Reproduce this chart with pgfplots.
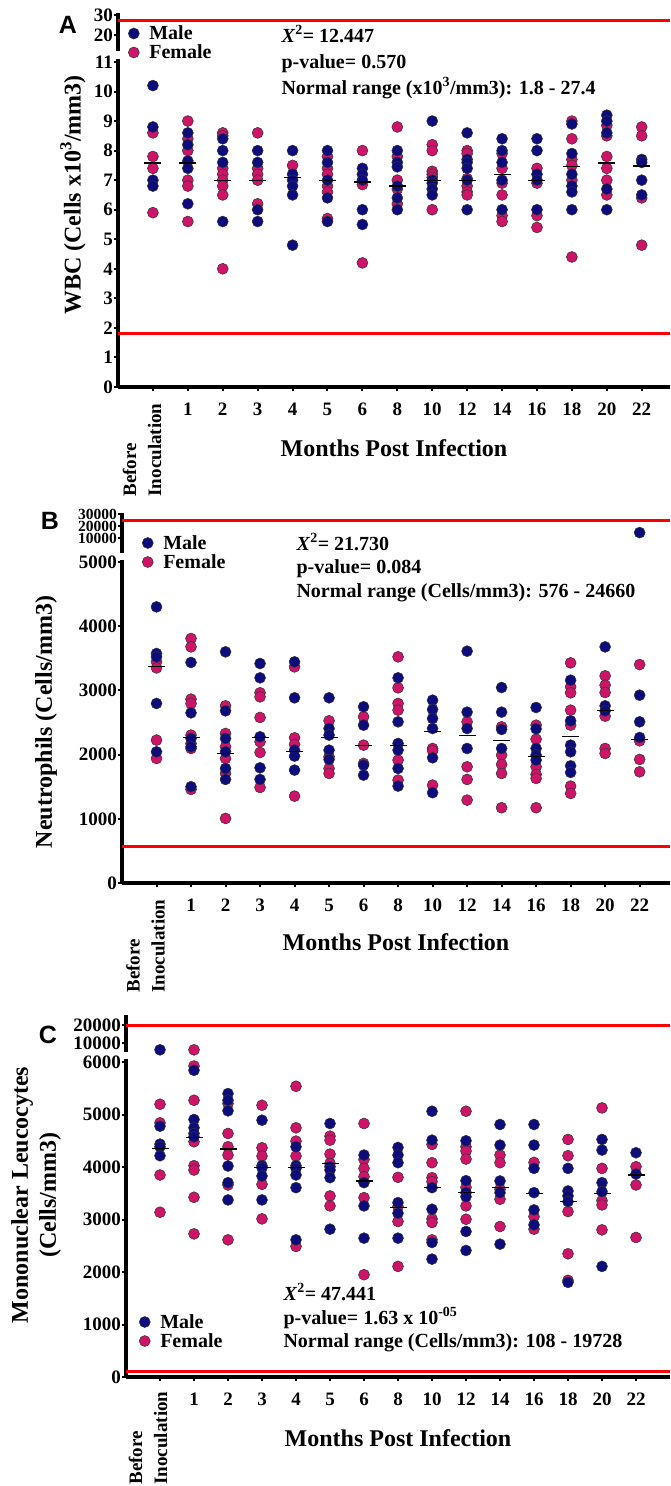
\documentclass[border=0pt]{standalone}
\usepackage{fontspec}
\setmainfont{Liberation Serif}
\newfontfamily\panelfont{Liberation Sans}
\usepackage{pgfplots}
\pgfplotsset{compat=1.18}

\definecolor{male}{RGB}{12,12,125}
\definecolor{female}{RGB}{205,20,105}
\definecolor{normline}{RGB}{255,0,0}

\newcommand\tfont{\fontsize{19}{19}\selectfont\bfseries}
\newcommand\ufont{\fontsize{15.5}{15.5}\selectfont\bfseries}
\newcommand\afont{\fontsize{20}{20}\selectfont\bfseries}
\newcommand\bifont{\fontsize{19}{25}\selectfont\bfseries}
\newcommand\lfont{\fontsize{24}{28}\selectfont\bfseries}
\newcommand\pfont{\fontsize{25}{25}\selectfont\panelfont\bfseries}
\newcommand\chisq{\textit{X}\textsuperscript{2}}

\pgfplotsset{
  panel/.style={scale only axis, clip=false,
    scaled y ticks=false,
    axis line style={line width=3.2pt,-,black},
    tick align=outside, major tick length=4pt,
    tick style={line width=2pt,black},
    ticklabel style={font=\tfont},
    yticklabel style={inner sep=1pt},
    xmin=-1},
  lower/.style={panel, axis x line*=bottom, axis y line*=left,
    xtick={0,...,14},
    xticklabels={,1,2,3,4,5,6,8,10,12,14,16,18,20,22},
    xticklabel style={inner sep=0pt, yshift=-12pt},
    legend cell align=left,
    legend image code/.code={\draw[##1] plot coordinates {(0pt,0pt)};},
    legend style={draw=none, fill=none, inner sep=0pt, outer sep=0pt,
      anchor=north west, font=\afont, row sep=6pt,
      nodes={text height=13pt, text depth=0pt, inner sep=0pt},
      /tikz/every odd column/.style={column sep=10pt}}},
  upper/.style={panel, axis x line=none, axis y line*=left, xtick=\empty},
  maleplot/.style={only marks, mark=*, mark size=5.5pt,
    mark options={fill=male, draw=black!80, line width=0.5pt}},
  femaleplot/.style={only marks, mark=*, mark size=5.5pt,
    mark options={fill=female, draw=black!80, line width=0.5pt}},
  medplot/.style={only marks, mark=-, mark size=8.5pt,
    mark options={draw=black, line width=1.2pt}},
  redline/.style={normline, line width=3pt, no marks},
}

\begin{document}
\begin{tikzpicture}
\fill[white, use as bounding box] (0pt,0pt) rectangle (670pt,-1486pt);

% ---------------- Panel A: WBC ----------------
\begin{axis}[upper, at={(118pt,-51pt)}, anchor=south west,
  width=552pt, height=38pt, xmax=14.81, ymin=12, ymax=31,
  ytick={20,30}, yticklabels={20,30}]
\addplot[redline] coordinates {(-1,27.4) (14.81,27.4)};
\end{axis}

\begin{axis}[lower, at={(118pt,-387pt)}, anchor=south west,
  width=552pt, height=328pt, xmax=14.81, ymin=0, ymax=11.1,
  ytick={0,...,11}, yticklabels={0,1,2,3,4,5,6,7,8,9,10,11},
  legend style={at={(0.0187,1.0976)}}]
\addlegendimage{maleplot}\addlegendentry{Male}
\addlegendimage{femaleplot}\addlegendentry{Female}
\addplot[redline, forget plot] coordinates {(-1,1.8) (14.81,1.8)};
\addplot[femaleplot, forget plot] coordinates {
(0,8.6)(0,7.8)(0,7.4)(0,5.9)
(1,9.0)(1,8.4)(1,8.0)(1,7.0)(1,6.8)(1,5.6)
(2,8.6)(2,8.5)(2,7.4)(2,7.2)(2,7.0)(2,6.8)(2,6.5)(2,4.0)
(3,8.6)(3,7.4)(3,7.2)(3,7.0)(3,6.2)
(4,7.5)
(5,7.8)(5,7.4)(5,7.2)(5,6.8)(5,6.6)(5,5.7)
(6,8.0)(6,6.85)(6,4.2)
(7,8.8)(7,7.8)(7,7.0)(7,6.7)(7,6.2)
(8,8.2)(8,8.0)(8,7.3)(8,7.2)(8,7.1)(8,6.0)
(9,8.0)(9,7.9)(9,7.05)(9,6.8)(9,6.6)(9,6.5)
(10,7.9)(10,7.4)(10,6.9)(10,6.5)(10,5.8)(10,5.6)
(11,7.4)(11,6.9)(11,5.8)(11,5.4)
(12,9.0)(12,8.4)(12,7.7)(12,7.5)(12,7.0)(12,4.4)
(13,8.85)(13,8.5)(13,7.8)(13,7.4)(13,7.0)(13,6.5)
(14,8.8)(14,8.5)(14,6.4)(14,4.8)};
\addplot[maleplot, forget plot] coordinates {
(0,10.2)(0,8.8)(0,7.0)(0,6.8)
(1,8.6)(1,8.2)(1,7.65)(1,7.4)(1,6.2)
(2,8.4)(2,8.0)(2,7.6)(2,5.6)
(3,8.0)(3,7.6)(3,6.0)(3,5.6)
(4,8.0)(4,7.2)(4,7.0)(4,6.8)(4,6.5)(4,4.8)
(5,8.0)(5,7.6)(5,7.0)(5,6.4)(5,5.6)
(6,7.4)(6,7.2)(6,7.0)(6,6.0)(6,5.5)
(7,8.0)(7,7.6)(7,7.45)(7,6.8)(7,6.4)(7,6.0)
(8,9.0)(8,7.0)(8,6.9)(8,6.7)(8,6.5)
(9,8.6)(9,7.7)(9,7.6)(9,7.4)(9,7.0)(9,6.0)
(10,8.4)(10,8.0)(10,7.6)(10,7.0)(10,6.0)
(11,8.4)(11,8.0)(11,7.2)(11,7.0)(11,6.0)
(12,8.9)(12,7.9)(12,7.2)(12,6.8)(12,6.6)(12,6.0)
(13,9.2)(13,9.0)(13,8.6)(13,6.7)(13,6.0)
(14,7.7)(14,7.6)(14,7.0)(14,6.5)};
\addplot[medplot, forget plot] coordinates {
(0,7.58)(1,7.58)(2,6.98)(3,7.0)(4,7.09)(5,6.98)(6,6.94)(7,6.8)
(8,7.0)(9,7.0)(10,7.19)(11,7.0)(12,7.45)(13,7.58)(14,7.48)};
\end{axis}

\node[font=\pfont] at (68pt,-25pt) {A};
\node[font=\lfont, rotate=90] at (73pt,-195pt) {WBC (Cells x10\textsuperscript{3}/mm3)};
\node[font=\lfont] at (394pt,-448pt) {Months Post Infection};
\node[font=\bifont, rotate=90, anchor=east, align=left] at (142pt,-400pt) {Before\\Inoculation};
\node[font=\afont, anchor=base west] at (278pt,-42pt) {\chisq= 12.447};
\node[font=\afont, anchor=base west] at (278pt,-68pt) {p-value= 0.570};
\node[font=\afont, anchor=base west] at (278pt,-94pt) {Normal range (x10\textsuperscript{3}/mm3): 1.8 - 27.4};

% ---------------- Panel B: Neutrophils ----------------
\begin{axis}[upper, at={(122pt,-553pt)}, anchor=south west,
  width=548pt, height=40.2pt, xmax=14.88, ymin=-2500, ymax=31000,
  yticklabel style={font=\ufont, inner ysep=0pt, inner xsep=1pt},
  ytick={10000,20000,30000}, yticklabels={10000,20000,30000}]
\addplot[redline] coordinates {(-1,24660) (14.88,24660)};
\addplot[maleplot] coordinates {(14,14500)};
\end{axis}

\begin{axis}[lower, at={(122pt,-883pt)}, anchor=south west,
  width=548pt, height=323pt, xmax=14.88, ymin=0, ymax=5030,
  ytick={0,1000,2000,3000,4000,5000}, yticklabels={0,1000,2000,3000,4000,5000},
  legend style={at={(0.037,1.0728)}}]
\addlegendimage{maleplot}\addlegendentry{Male}
\addlegendimage{femaleplot}\addlegendentry{Female}
\addplot[redline, forget plot] coordinates {(-1,576) (14.88,576)};
\addplot[femaleplot, forget plot] coordinates {
(0,3444)(0,3350)(0,2225)(0,1940)
(1,3807)(1,3677)(1,2863)(1,2796)(1,2303)(1,2173)(1,2095)(1,1457)
(2,2759)(2,2329)(2,2121)(2,1940)(2,1706)(2,1006)
(3,2962)(3,2899)(3,2578)(3,2199)(3,2033)(3,1488)
(4,3366)(4,2261)(4,2158)(4,1353)
(5,2526)(5,1966)(5,1784)(5,1706)
(6,2588)(6,2147)(6,1862)
(7,3522)(7,3039)(7,2796)(7,2692)(7,1914)(7,1603)
(8,2095)(8,2059)(8,1525)
(9,2510)(9,1810)(9,1613)(9,1291)
(10,2432)(10,1992)(10,1846)(10,1706)(10,1172)
(11,2458)(11,2240)(11,1810)(11,1691)(11,1629)(11,1172)
(12,3428)(12,3055)(12,2962)(12,2692)(12,2458)(12,1509)(12,1395)
(13,3226)(13,3081)(13,2967)(13,2598)(13,2095)(13,2017)
(14,3402)(14,2214)(14,1924)(14,1732)};
\addplot[maleplot, forget plot] coordinates {
(0,4300)(0,3574)(0,3522)(0,2796)(0,2043)
(1,3434)(1,2650)(1,2251)(1,2121)(1,1499)
(2,3600)(2,2681)(2,2251)(2,2043)(2,1784)(2,1613)
(3,3418)(3,3195)(3,2277)(3,1794)(3,1613)
(4,3444)(4,2884)(4,2069)(4,1976)(4,1758)
(5,2884)(5,2406)(5,2303)(5,2069)(5,1924)
(6,2744)(6,2458)(6,1836)(6,1680)
(7,3195)(7,2510)(7,2173)(7,2069)(7,1784)(7,1509)
(8,2847)(8,2702)(8,2562)(8,2406)(8,1950)(8,1406)
(9,3610)(9,2661)(9,2406)(9,2095)
(10,3044)(10,2661)(10,2391)(10,2095)
(11,2733)(11,2401)(11,2095)(11,1992)(11,1914)
(12,3158)(12,2526)(12,2147)(12,2043)(12,1825)(12,1722)
(13,3677)(13,2759)(13,2681)
(14,2925)(14,2510)(14,2266)};
\addplot[medplot, forget plot] coordinates {
(0,3376)(1,2266)(2,2017)(3,2266)(4,2054)(5,2266)(6,2147)(7,2147)
(8,2355)(9,2298)(10,2214)(11,1966)(12,2287)(13,2681)(14,2235)};
\end{axis}

\node[font=\pfont] at (50pt,-521pt) {B};
\node[font=\lfont, rotate=90] at (46pt,-722pt) {Neutrophils (Cells/mm3)};
\node[font=\lfont] at (396pt,-942pt) {Months Post Infection};
\node[font=\bifont, rotate=90, anchor=east, align=left] at (145.5pt,-896pt) {Before\\Inoculation};
\node[font=\afont, anchor=base west] at (293pt,-550pt) {\chisq= 21.730};
\node[font=\afont, anchor=base west] at (293pt,-573pt) {p-value= 0.084};
\node[font=\afont, anchor=base west] at (293pt,-597pt) {Normal range (Cells/mm3): 576 - 24660};

% ---------------- Panel C: Mononuclear leucocytes ----------------
\begin{axis}[upper, at={(126pt,-1052pt)}, anchor=south west,
  width=544pt, height=37pt, xmax=15, ymin=5000, ymax=25500,
  ytick={10000,20000}, yticklabels={10000,20000}]
\addplot[redline] coordinates {(-1,19728) (15,19728)};
\addplot[femaleplot] coordinates {(1,6200)};
\addplot[maleplot] coordinates {(0,6200)};
\end{axis}

\begin{axis}[lower, at={(126pt,-1377pt)}, anchor=south west,
  width=544pt, height=317.6pt, xmax=15, ymin=0, ymax=6050,
  ytick={0,1000,2000,3000,4000,5000,6000},
  yticklabels={0,1000,2000,3000,4000,5000,6000},
  legend style={at={(0.0244,0.1936)}}]
\addlegendimage{maleplot}\addlegendentry{Male}
\addlegendimage{femaleplot}\addlegendentry{Female}
\addplot[redline, forget plot] coordinates {(-1,108) (15,108)};
\addplot[femaleplot, forget plot] coordinates {
(0,5196)(0,4842)(0,3848)(0,3139)
(1,5924)(1,5272)(1,4481)(1,4025)(1,3943)(1,3424)(1,2727)
(2,5209)(2,4639)(2,4386)(2,4228)(2,3658)(2,2613)
(3,5177)(3,4367)(3,4209)(3,3670)(3,3012)
(4,5538)(4,4747)(4,4494)(4,4209)(4,2487)
(5,4588)(5,4512)(5,4247)(5,4069)(5,3449)(5,3259)
(6,4829)(6,4145)(6,3974)(6,3816)(6,3417)(6,1949)
(7,3804)(7,3246)(7,2962)(7,2107)
(8,4430)(8,4082)(8,3797)(8,3721)(8,3012)(8,2943)(8,2613)
(9,5063)(9,4386)(9,4304)(9,4152)(9,3613)(9,3259)(9,3006)
(10,4228)(10,4082)(10,3576)(10,3386)(10,2867)
(11,4088)(11,3057)(11,2816)
(12,4525)(12,4215)(12,3152)(12,2348)(12,1841)
(13,5126)(13,3974)(13,3360)(13,3278)(13,2803)
(14,4006)(14,3658)(14,2658)};
\addplot[maleplot, forget plot] coordinates {
(0,4778)(0,4436)(0,4386)(0,4215)
(1,5842)(1,4905)(1,4747)(1,4639)(1,4576)
(2,5399)(2,5272)(2,5070)(2,4019)(2,3702)(2,3373)
(3,4892)(3,4025)(3,3987)(3,3829)(3,3373)
(4,4386)(4,4025)(4,3974)(4,3848)(4,3607)(4,2613)
(5,4829)(5,4006)(5,3943)(5,3797)(5,2816)
(6,4228)(6,3702)(6,3259)(6,2645)
(7,4373)(7,4228)(7,4082)(7,3322)(7,3120)(7,2645)
(8,5063)(8,4512)(8,3607)(8,3196)(8,2563)(8,2246)
(9,4500)(9,3740)(9,3512)(9,3436)(9,2772)(9,2411)
(10,4810)(10,4418)(10,3734)(10,3512)(10,2531)
(11,4810)(11,4418)(11,3974)(11,3512)(11,3183)(11,2898)
(12,3974)(12,3544)(12,3449)(12,3341)(12,1803)
(13,4525)(13,4323)(13,3702)(13,3531)(13,2107)
(14,4272)(14,3867)};
\addplot[medplot, forget plot] coordinates {
(0,4348)(1,4563)(2,4342)(3,3993)(4,3993)(5,4069)(6,3734)(7,3234)
(8,3607)(9,3519)(10,3607)(11,3500)(12,3341)(13,3500)(14,3848)};
\end{axis}

\node[font=\pfont] at (48pt,-1035pt) {C};
\node[font=\lfont, rotate=90, align=center] at (36pt,-1195pt) {Mononuclear Leucocytes\\(Cells/mm3)};
\node[font=\lfont] at (398pt,-1438pt) {Months Post Infection};
\node[font=\bifont, rotate=90, anchor=east, align=left] at (148pt,-1388pt) {Before\\Inoculation};
\node[font=\afont, anchor=base west] at (280pt,-1300pt) {\chisq= 47.441};
\node[font=\afont, anchor=base west] at (280pt,-1324pt) {p-value= 1.63 x 10\textsuperscript{-05}};
\node[font=\afont, anchor=base west] at (280pt,-1347pt) {Normal range (Cells/mm3): 108 - 19728};
\end{tikzpicture}
\end{document}
